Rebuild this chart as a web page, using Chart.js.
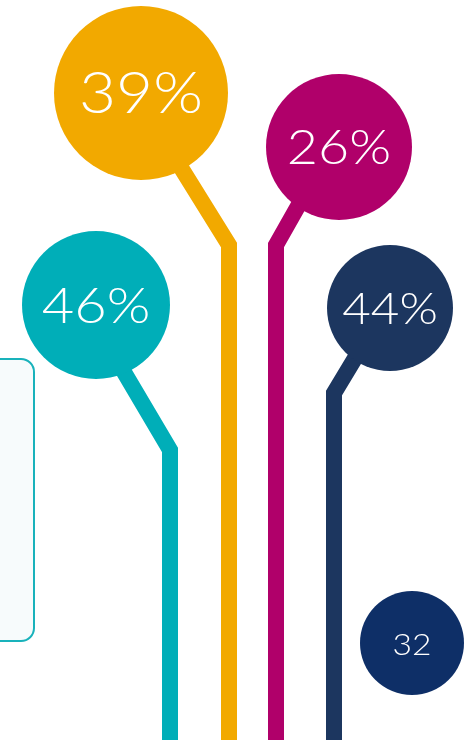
<!DOCTYPE html>
<html>
<head>
<meta charset="utf-8">
<script src="https://cdn.jsdelivr.net/npm/chart.js@4"></script>
<style>
  html, body { margin: 0; padding: 0; background: #fff; overflow: hidden; }
  #wrap { width: 466px; height: 740px; }
</style>
</head>
<body>
<div id="wrap"><canvas id="c" width="466" height="740"></canvas></div>
<script>
/* values shown in the bubbles */
const shares = [46, 39, 26, 44];
const extraCount = [32];

/* layout (canvas coords on a 0..466 / 0..740 linear scale) */
const bubbleX = [96, 141, 339, 390];
const bubbleY = [305, 93, 147, 308];
const bubbleR = [74, 87, 73, 63];
const labelSize = [50, 57, 48, 44];
const stems = [
  [{x: 108, y: 345}, {x: 170, y: 450}, {x: 170, y: 760}],
  [{x: 170, y: 150}, {x: 229, y: 245}, {x: 229, y: 760}],
  [{x: 310, y: 185}, {x: 276, y: 245}, {x: 276, y: 760}],
  [{x: 372, y: 330}, {x: 334, y: 393}, {x: 334, y: 760}]
];
const extraX = [412], extraY = [643], extraR = [52];

const colors = ['#00AEB8', '#F2A900', '#B0006A', '#1C365F'];
const extraColor = '#0E2F67';

const FONT = 'Lato, "Open Sans", sans-serif';
const STRETCH = 1.12; // widen Lato toward the geometric face in the original

const stemSets = stems.map((pts, i) => ({
  type: 'line',
  data: pts,
  borderColor: colors[i],
  borderWidth: 16,
  borderJoinStyle: 'miter',
  borderCapStyle: 'butt',
  pointRadius: 0,
  showLine: true,
  fill: false,
  tension: 0,
  order: 10,
  clip: false
}));

const bubbleSet = {
  type: 'scatter',
  data: shares.map((v, i) => ({x: bubbleX[i], y: bubbleY[i], v: v + '%', s: labelSize[i]})),
  pointRadius: bubbleR,
  pointHoverRadius: bubbleR,
  pointBackgroundColor: colors,
  pointBorderWidth: 0,
  order: 1,
  clip: false
};

const extraSet = {
  type: 'scatter',
  data: extraCount.map((v, i) => ({x: extraX[i], y: extraY[i], v: String(v), s: 30})),
  pointRadius: extraR,
  pointHoverRadius: extraR,
  pointBackgroundColor: extraColor,
  pointBorderWidth: 0,
  order: 1,
  clip: false
};

/* faded legend panel peeking in at the left edge */
const panelPlugin = {
  id: 'panel',
  beforeDatasetsDraw(chart) {
    const {ctx, scales: {x, y}} = chart;
    const x0 = x.getPixelForValue(-30), x1 = x.getPixelForValue(34);
    const y0 = y.getPixelForValue(359), y1 = y.getPixelForValue(641);
    ctx.save();
    ctx.beginPath();
    ctx.roundRect(x0, y0, x1 - x0, y1 - y0, 13);
    ctx.fillStyle = '#F7FBFC';
    ctx.fill();
    ctx.lineWidth = 2;
    ctx.strokeStyle = '#19B2BB';
    ctx.stroke();
    ctx.restore();
  }
};

const labelPlugin = {
  id: 'bubbleLabels',
  afterDatasetsDraw(chart) {
    const {ctx} = chart;
    chart.data.datasets.forEach((ds, di) => {
      if (ds.type !== 'scatter') return;
      chart.getDatasetMeta(di).data.forEach((pt, i) => {
        const d = ds.data[i];
        ctx.save();
        ctx.translate(pt.x, pt.y + 2);
        ctx.scale(STRETCH, 1);
        ctx.fillStyle = '#fff';
        ctx.font = '300 ' + d.s + 'px ' + FONT;
        ctx.textAlign = 'center';
        ctx.textBaseline = 'middle';
        ctx.fillText(d.v, 0, 0);
        ctx.restore();
      });
    });
  }
};

new Chart(document.getElementById('c'), {
  data: { datasets: [...stemSets, bubbleSet, extraSet] },
  options: {
    responsive: false,
    animation: false,
    layout: { padding: 0, autoPadding: false },
    plugins: { legend: { display: false }, tooltip: { enabled: false } },
    scales: {
      x: { type: 'linear', min: 0, max: 466, display: false },
      y: { type: 'linear', min: 0, max: 740, reverse: true, display: false }
    }
  },
  plugins: [panelPlugin, labelPlugin]
});
</script>
</body>
</html>
